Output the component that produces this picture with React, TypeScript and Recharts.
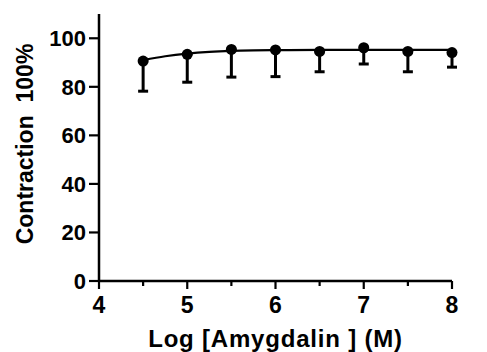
import { ComposedChart, Line, Scatter, XAxis, YAxis, ErrorBar } from "recharts";

const doses = [4.5, 5, 5.5, 6, 6.5, 7, 7.5, 8];
const means = [90.6, 93.4, 95.4, 95.2, 94.6, 96.1, 94.6, 94.1];
const lows = [78.2, 81.9, 84.0, 84.2, 86.2, 89.4, 86.2, 88.1];

const fitX = [4.5, 4.75, 5, 5.25, 5.5, 5.75, 6, 6.5, 7, 7.5, 8];
const fitY = [91.0, 92.6, 93.7, 94.4, 94.8, 95.0, 95.1, 95.2, 95.2, 95.2, 95.2];

const xTicks = [4, 4.5, 5, 5.5, 6, 6.5, 7, 7.5, 8];
const yTicks = [0, 20, 40, 60, 80, 100];

const points = doses.map((x, i) => ({ x, y: means[i], err: [means[i] - lows[i], 0] }));
const fit = fitX.map((x, i) => ({ x, fit: fitY[i] }));

const font = "'Liberation Sans', Arial, sans-serif";

function XTick(props: any) {
  const { x, y, payload } = props;
  const major = Number.isInteger(payload.value);
  return (
    <g>
      <line x1={x} y1={y - 8} x2={x} y2={y - 8 + (major ? 8 : 5)} stroke="#000" strokeWidth={2.2} />
      {major && (
        <text x={x} y={y + 24} textAnchor="middle" fontSize={23} fontWeight="bold" fontFamily={font} fill="#000">
          {payload.value}
        </text>
      )}
    </g>
  );
}

function YTick(props: any) {
  const { x, y, payload } = props;
  return (
    <g>
      <line x1={x - 2} y1={y} x2={x + 8} y2={y} stroke="#000" strokeWidth={2.2} />
      <text x={x - 5} y={y + 8} textAnchor="end" fontSize={22} fontWeight="bold" fontFamily={font} fill="#000">
        {payload.value}
      </text>
    </g>
  );
}

function YLabel() {
  return (
    <text
      x={33}
      y={144}
      transform="rotate(-90 33 144)"
      textAnchor="middle"
      fontSize={23}
      fontWeight="bold"
      fontFamily={font}
      fill="#000"
      style={{ whiteSpace: "pre" }}
    >
      {"Contraction  100%"}
    </text>
  );
}

export default function App() {
  return (
    <div style={{ position: "absolute", left: 0, top: 0, background: "#fff" }}>
      <ComposedChart width={487} height={352} margin={{ top: 14, right: 35, bottom: 0, left: 0 }}>
        <XAxis
          type="number"
          dataKey="x"
          domain={[4, 8]}
          ticks={xTicks}
          tick={<XTick />}
          tickLine={false}
          axisLine={{ stroke: "#000", strokeWidth: 2.5 }}
          height={71}
          label={{
            value: "Log [Amygdalin ] (M)",
            position: "insideBottom",
            offset: 5,
            style: { fontSize: 24, fontWeight: "bold", fontFamily: font, fill: "#000", letterSpacing: 0.8 },
          }}
        />
        <YAxis
          type="number"
          domain={[0, 110]}
          ticks={yTicks}
          tick={<YTick />}
          tickLine={false}
          axisLine={{ stroke: "#000", strokeWidth: 2.5 }}
          width={99}
          label={{ content: () => <YLabel /> }}
        />
        <Line
          data={fit}
          dataKey="fit"
          type="monotone"
          stroke="#000"
          strokeWidth={2.2}
          dot={false}
          isAnimationActive={false}
        />
        <Scatter
          data={points}
          dataKey="y"
          fill="#000"
          isAnimationActive={false}
          shape={(p: any) => <circle cx={p.cx} cy={p.cy} r={5.5} fill="#000" />}
        >
          <ErrorBar dataKey="err" direction="y" width={5} stroke="#000" strokeWidth={3} />
        </Scatter>
      </ComposedChart>
    </div>
  );
}
